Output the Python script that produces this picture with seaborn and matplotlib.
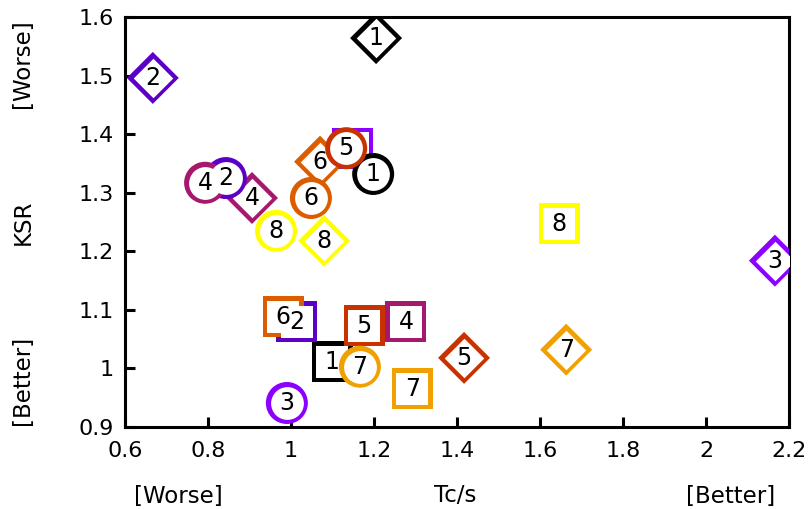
import numpy as np
import pandas as pd
import matplotlib
matplotlib.use("Agg")
import matplotlib.pyplot as plt
import seaborn as sns

# Eight configurations, each measured with three methods (marker shapes)
labels = ["1", "2", "3", "4", "5", "6", "7", "8"]
colors = ["#000000", "#5c00c8", "#8c00ff", "#a6186e", "#c83200", "#dc5c00", "#f0a000", "#ffff00"]

square_tc = [1.099, 1.014, 1.149, 1.277, 1.176, 0.981, 1.292, 1.646]
square_ksr = [1.011, 1.080, 1.376, 1.080, 1.073, 1.088, 0.965, 1.247]

diamond_tc = [1.205, 0.667, 2.166, 0.906, 1.417, 1.070, 1.663, 1.080]
diamond_ksr = [1.564, 1.496, 1.184, 1.291, 1.018, 1.353, 1.032, 1.218]

circle_tc = [1.198, 0.843, 0.990, 0.793, 1.133, 1.048, 1.166, 0.964]
circle_ksr = [1.332, 1.325, 0.941, 1.317, 1.376, 1.291, 1.003, 1.235]

x_ticks = [0.6, 0.8, 1, 1.2, 1.4, 1.6, 1.8, 2, 2.2]
y_ticks = [0.9, 1.0, 1.1, 1.2, 1.3, 1.4, 1.5, 1.6]

sns.set_theme(style="white")
plt.rcParams["font.family"] = ["DejaVu Sans"]
plt.rcParams["text.color"] = "black"

DPI = 100
fig = plt.figure(figsize=(8.11, 5.09), dpi=DPI)
ax = fig.add_axes([125 / 811, 1 - 427 / 509, (789 - 125) / 811, (427 - 17) / 509])

diamond = [(0, 1), (1, 0), (0, -1), (-1, 0), (0, 1)]


def px2pt(px):
    return px * 72.0 / DPI


ring_px = 4.6
# (marker, x, y, outer size px, inner size px)
series = [
    ("s", square_tc, square_ksr, 41.0, 41.0 - 2 * ring_px),
    (diamond, diamond_tc, diamond_ksr, 52.0, 39.5),
    ("o", circle_tc, circle_ksr, 42.0, 42.0 - 2 * ring_px),
]

palette = dict(zip(labels, colors))
z = 2
for marker, tc, ksr, outer_px, inner_px in series:
    df = pd.DataFrame({"tc": tc, "ksr": ksr, "cfg": labels})
    # coloured rings: full coloured marker, then white interior on top
    sns.scatterplot(data=df, x="tc", y="ksr", hue="cfg", palette=palette,
                    marker=marker, s=px2pt(outer_px) ** 2, linewidth=0,
                    legend=False, ax=ax, zorder=z)
    sns.scatterplot(data=df, x="tc", y="ksr", color="white",
                    marker=marker, s=px2pt(inner_px) ** 2, linewidth=0,
                    legend=False, ax=ax, zorder=z + 1)
    for xv, yv, lab in zip(tc, ksr, labels):
        ax.text(xv, yv, lab, ha="center", va="center", fontsize=17,
                color="black", zorder=z + 2)
    z += 3

ax.set_xlim(0.6, 2.2)
ax.set_ylim(0.9, 1.6)
ax.set_xticks(x_ticks)
ax.set_xticklabels(["0.6", "0.8", "1", "1.2", "1.4", "1.6", "1.8", "2", "2.2"])
ax.set_yticks(y_ticks)
ax.set_yticklabels(["0.9", "1", "1.1", "1.2", "1.3", "1.4", "1.5", "1.6"])
ax.tick_params(axis="both", direction="in", length=7, width=2.2, labelsize=16,
               color="black", labelcolor="black", pad=8)
ax.tick_params(axis="x", pad=10)
ax.tick_params(top=False, right=False, bottom=True, left=True)
for sp in ax.spines.values():
    sp.set_visible(True)
    sp.set_color("black")
    sp.set_linewidth(2.2)
ax.set_xlabel("")
ax.set_ylabel("")
ax.grid(False)

# axis captions
cap = dict(ha="center", va="center", fontsize=16.5, color="black")
fig.text(23 / 811, 1 - 64 / 509, "[Worse]", rotation=90, **cap)
fig.text(23 / 811, 1 - 222 / 509, "KSR", rotation=90, **cap)
fig.text(23 / 811, 1 - 380 / 509, "[Better]", rotation=90, **cap)
fig.text(178 / 811, 1 - 496 / 509, "[Worse]", **cap)
fig.text(455 / 811, 1 - 496 / 509, "Tc/s", **cap)
fig.text(731 / 811, 1 - 496 / 509, "[Better]", **cap)

fig.savefig("out.png", dpi=DPI)
